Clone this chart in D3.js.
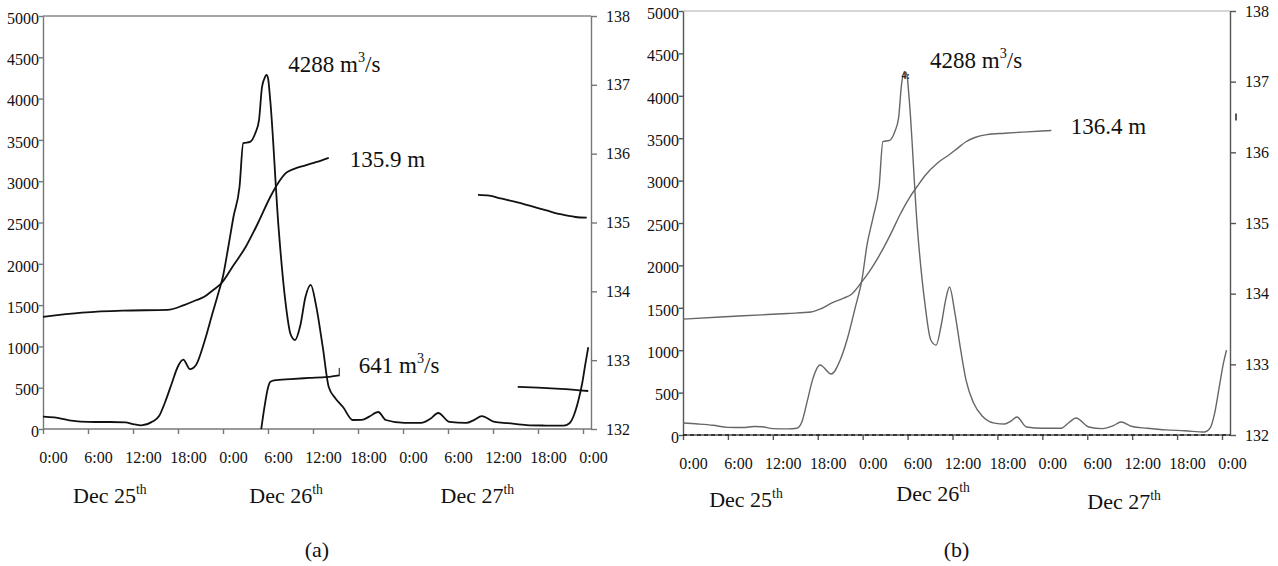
<!DOCTYPE html>
<html>
<head>
<meta charset="utf-8">
<script src="https://cdn.jsdelivr.net/npm/d3@7"></script>
<style>
  body { margin: 0; background: #fff; }
  svg { display: block; }
  svg text { font-family: "Liberation Serif", "Times New Roman", serif; }
</style>
</head>
<body>
<script>
// time axis: hours from Dec 25th 0:00
const hourTicks = [0, 6, 12, 18, 24, 30, 36, 42, 48, 54, 60, 66, 72];
const hourLabels = ["0:00", "6:00", "12:00", "18:00", "0:00", "6:00", "12:00", "18:00", "0:00", "6:00", "12:00", "18:00", "0:00"];
const flowTicks = [0, 500, 1000, 1500, 2000, 2500, 3000, 3500, 4000, 4500, 5000];
const levelTicks = [132, 133, 134, 135, 136, 137, 138];
const days = ["25", "26", "27"];

// panel (a) - [hour, m3/s] or [hour, m]
const inflowA = [[0,150],[1.5,140],[3.5,105],[5,90],[7,85],[9,85],[11,80],[12,60],[13.1,45],[14.6,90],[15.5,160],[16.3,330],[17.2,560],[18,760],[18.7,840],[19.6,725],[20.4,775],[21.5,1050],[22.6,1400],[23.3,1620],[24,1850],[24.7,2200],[25.4,2570],[26.2,2930],[26.7,3460],[27.6,3475],[28.3,3580],[28.8,3740],[29.2,4140],[29.6,4260],[29.8,4288],[30,4250],[30.3,3980],[31.4,2450],[32.3,1560],[33,1150],[33.6,1077],[34.3,1250],[35,1600],[35.7,1745],[36.4,1500],[37.3,993],[38.1,508],[39,370],[40,266],[41.3,109],[42.5,110],[43.5,150],[44.7,206],[45.7,109],[48.2,73],[50.4,73],[51.6,120],[52.7,194],[54.2,85],[56.4,73],[57.5,110],[58.5,157],[60.2,85],[62,70],[64.5,48],[67,42],[69.4,40],[70.2,70],[70.8,170],[71.4,350],[71.9,557],[72.3,780],[72.7,990]];
const levelA = [[0,133.63],[5.2,133.69],[10.6,133.72],[16.6,133.73],[18.8,133.8],[20.4,133.87],[21.5,133.92],[22.7,134.02],[23.8,134.12],[25.4,134.38],[27,134.64],[28.7,135.0],[30.3,135.37],[31.4,135.58],[32.4,135.72],[33.5,135.78],[35,135.83],[36.5,135.88],[38.1,135.94]];
const levelA2 = [[58,135.4],[59.5,135.39],[61,135.35],[63,135.3],[65,135.24],[67,135.18],[69,135.12],[71,135.08],[72.5,135.07]];
const outflowA = [[29.1,0],[29.5,250],[30,500],[30.3,570],[30.8,590],[33,605],[35.5,618],[37.9,630],[39.5,650]];
const outflowA2 = [[63.3,510],[66,500],[69,485],[72.7,460]];

// panel (b)
const inflowB = [[0,141],[2,130],[4,115],[6,90],[8,88],[9.5,100],[10.5,98],[12,75],[14,72],[15.2,80],[15.9,160],[16.6,400],[17.3,650],[18.3,825],[19.8,720],[21,885],[22,1150],[23,1500],[23.9,1830],[24.6,2250],[25.4,2570],[26.2,2930],[26.7,3460],[27.6,3475],[28.3,3580],[28.8,3740],[29.2,4140],[29.6,4288],[29.9,4250],[30.2,3980],[31.3,2450],[32.3,1560],[33.1,1120],[33.8,1060],[34.5,1300],[35.1,1600],[35.6,1745],[36.3,1450],[37.1,1000],[37.8,650],[38.8,380],[40,220],[41.6,140],[43,130],[43.9,170],[44.6,212],[45.9,94],[48,80],[50.5,80],[51.6,150],[52.5,200],[54.2,94],[56,75],[57.5,110],[58.5,153],[60,100],[62,80],[64.5,60],[67,50],[69.7,35],[70.4,80],[71,250],[71.6,550],[72.2,850],[72.6,1000]];
const levelB = [[0,133.64],[5,133.67],[10.5,133.7],[14,133.72],[17.1,133.74],[18.5,133.79],[19.9,133.87],[21.3,133.93],[22.6,134.0],[23.9,134.17],[25,134.33],[26,134.5],[27,134.69],[28,134.9],[29,135.12],[30.2,135.35],[31.3,135.52],[32.4,135.68],[34,135.85],[35.6,135.97],[36.7,136.06],[37.8,136.15],[39,136.21],[40.6,136.25],[43,136.27],[46,136.29],[49.2,136.31]];

const svg = d3.select("body").append("svg")
    .attr("width", 1278)
    .attr("height", 566);

const serif = "'Liberation Serif', 'Times New Roman', serif";

// text with superscript parts: [["4288 m"], ["3", true], ["/s"]]
function richText(g, x, y, size, parts) {
    const t = g.append("text").attr("x", x).attr("y", y)
        .attr("font-size", size).attr("fill", "#111").style("font-family", serif);
    parts.forEach(([s, sup], i) => {
        const ts = t.append("tspan").text(s);
        if (sup) ts.attr("font-size", size * 0.62).attr("dy", -size * 0.42);
        else ts.attr("dy", i > 0 ? size * 0.42 : 0);
    });
    return t;
}

function drawPanel(p) {
    const g = svg.append("g");
    const x = d3.scaleLinear().domain([0, 72]).range([p.left, p.right]);
    const yQ = d3.scaleLinear().domain([0, 5000]).range([p.bottom, p.top]);
    const yH = d3.scaleLinear().domain([132, 138]).range([p.bottom, p.top]);

    // top frame line
    g.append("line")
        .attr("x1", p.left).attr("x2", p.axisRight)
        .attr("y1", p.top).attr("y2", p.top)
        .attr("stroke", p.frame).attr("stroke-width", 1.4);

    const left = g.append("g")
        .attr("transform", `translate(${p.left},0)`)
        .call(d3.axisLeft(yQ).tickValues(flowTicks).tickSize(4).tickSizeOuter(0)
            .tickPadding(0).tickFormat(d3.format("d")));

    const right = g.append("g")
        .attr("transform", `translate(${p.axisRight},0)`)
        .call(d3.axisRight(yH).tickValues(levelTicks).tickSize(6).tickSizeOuter(0)
            .tickPadding(9).tickFormat(d3.format("d")));

    const bottom = g.append("g")
        .attr("transform", `translate(0,${p.bottom})`)
        .call(d3.axisBottom(x).tickValues(hourTicks).tickSize(5).tickSizeOuter(0).tickPadding(18)
            .tickFormat((d, i) => hourLabels[i]));
    bottom.select(".domain").remove();
    bottom.append("line")
        .attr("x1", p.left).attr("x2", p.axisRight)
        .attr("stroke", p.axis).attr("stroke-width", 1.4);
    bottom.selectAll(".tick text").attr("dx", 10);

    [left, right, bottom].forEach(a => {
        a.attr("font-family", null).attr("font-size", null);
        a.selectAll("path, line").attr("stroke", p.axis).attr("stroke-width", 1.4);
        a.selectAll("text").attr("font-size", 16).attr("fill", "#111")
            .style("font-family", serif);
    });
    left.selectAll(".tick text").attr("dy", "0.45em");

    if (p.dashed) {
        g.append("line")
            .attr("x1", p.left).attr("x2", p.axisRight)
            .attr("y1", p.bottom).attr("y2", p.bottom)
            .attr("stroke", "#222").attr("stroke-width", 1.6)
            .attr("stroke-dasharray", "4,3");
    }

    const lineQ = d3.line().x(d => x(d[0])).y(d => yQ(d[1])).curve(d3.curveMonotoneX);
    const lineH = d3.line().x(d => x(d[0])).y(d => yH(d[1])).curve(d3.curveMonotoneX);

    p.flows.forEach(s => g.append("path").attr("d", lineQ(s)).attr("fill", "none")
        .attr("stroke", p.curve).attr("stroke-width", p.curveWidth).attr("stroke-linejoin", "round"));
    p.levels.forEach(s => g.append("path").attr("d", lineH(s)).attr("fill", "none")
        .attr("stroke", p.curve).attr("stroke-width", p.curveWidth).attr("stroke-linejoin", "round"));

    // date labels under the time axis
    days.forEach((d, i) => {
        richText(g, x(p.dayAt[i]), p.bottom + p.dayDy[i], 22, [["Dec " + d], ["th", true]]);
    });

    p.notes.forEach(n => {
        const yy = n.level ? yH(n.v) : yQ(n.v);
        richText(g, x(n.h), yy, 23, n.parts);
    });

    g.append("text")
        .attr("x", (p.left + p.axisRight) / 2).attr("y", 557)
        .attr("text-anchor", "middle").attr("font-size", 22).attr("fill", "#111")
        .style("font-family", serif)
        .text(p.tag);

    return { x, yQ, yH, g };
}

const pa = drawPanel({
    left: 43, right: 583, axisRight: 591, top: 16, bottom: 429,
    axis: "#777", frame: "#888", curve: "#111", curveWidth: 1.8,
    flows: [inflowA, outflowA, outflowA2], levels: [levelA, levelA2],
    dayAt: [4, 27.5, 53], dayDy: [74, 74, 74],
    notes: [
        { h: 32.7, v: 4322, parts: [["4288 m"], ["3", true], ["/s"]] },
        { h: 40.9, v: 135.81, level: true, parts: [["135.9 m"]] },
        { h: 42.1, v: 678, parts: [["641 m"], ["3", true], ["/s"]] }
    ],
    tag: "(a)"
});
// little end mark on the outflow segment
pa.g.append("line")
    .attr("x1", pa.x(39.5)).attr("x2", pa.x(39.5))
    .attr("y1", pa.yQ(640)).attr("y2", pa.yQ(740))
    .attr("stroke", "#111").attr("stroke-width", 1);

const pb = drawPanel({
    left: 683, right: 1222, axisRight: 1230, top: 11, bottom: 435,
    axis: "#555", frame: "#c8c8c8", curve: "#666", curveWidth: 1.4, dashed: true,
    flows: [inflowB], levels: [levelB],
    dayAt: [3.5, 28.5, 54], dayDy: [72, 66, 74],
    notes: [
        { h: 33, v: 4328, parts: [["4288 m"], ["3", true], ["/s"]] },
        { h: 51.8, v: 136.26, level: true, parts: [["136.4 m"]] }
    ],
    tag: "(b)"
});
pb.g.append("text")
    .attr("x", pb.x(29.2)).attr("y", pb.yQ(4288) + 8)
    .attr("font-size", 10).attr("font-weight", "bold").attr("fill", "#222")
    .style("font-family", serif)
    .text("4:");
// stray mark beside the right axis
pb.g.append("line")
    .attr("x1", 1236).attr("x2", 1236)
    .attr("y1", pb.yH(136.55)).attr("y2", pb.yH(136.45))
    .attr("stroke", "#222").attr("stroke-width", 1.5);
</script>
</body>
</html>
